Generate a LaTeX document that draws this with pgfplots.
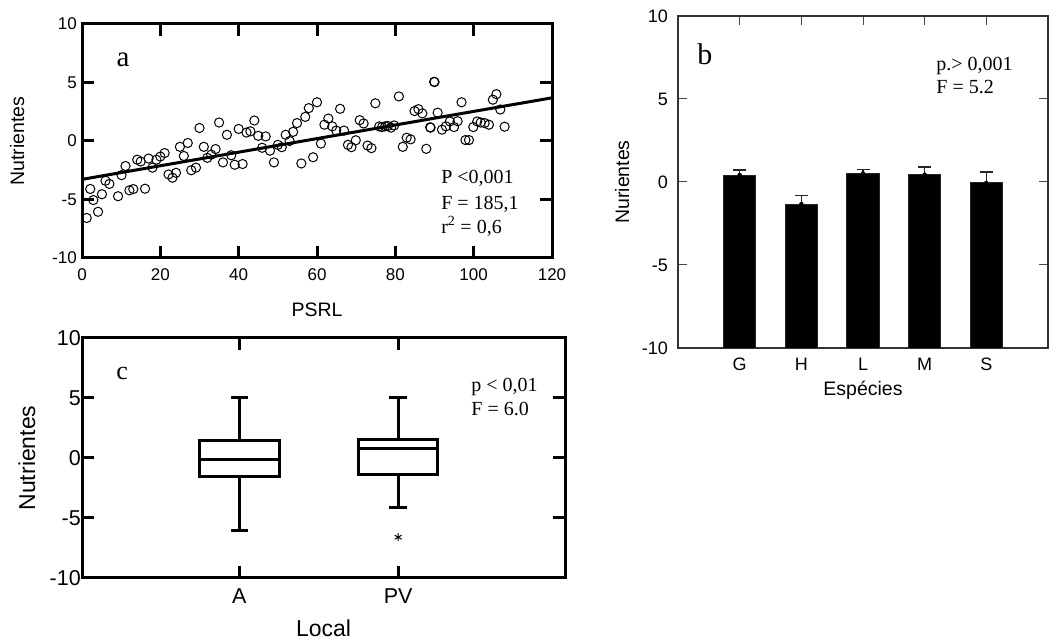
\documentclass[border=0pt]{standalone}
\usepackage{fontspec}
\setmainfont{Liberation Serif}
\setsansfont{Liberation Sans}
\usepackage{pgfplots}
\pgfplotsset{compat=1.18}
\usepgfplotslibrary{statistics}
\begin{document}
\begin{tikzpicture}
\useasboundingbox (0,0) rectangle (1049pt,639pt);

% ---------------- Panel a ----------------
\begin{axis}[
  at={(82pt,381pt)}, anchor=south west, scale only axis,
  width=470pt, height=234pt,
  xmin=0, xmax=120, ymin=-10, ymax=10,
  xtick={0,20,40,60,80,100,120}, xticklabels={0,20,40,60,80,100,120},
  ytick={-10,-5,0,5,10}, yticklabels={-10,-5,0,5,10},
  tick align=inside, major tick length=12pt,
  axis line style={line width=3pt, black},
  tick style={line width=3pt, black},
  ticklabel style={font=\sffamily\fontsize{17}{17}\selectfont},
  yticklabel style={inner sep=0pt, xshift=-5pt},
  xticklabel style={inner sep=0pt, yshift=-10pt},
  xlabel={PSRL}, ylabel={Nutrientes},
  label style={font=\sffamily\fontsize{19.5}{19.5}\selectfont},
  xlabel style={at={(axis description cs:0.5,-0.222)}, anchor=center},
  ylabel style={at={(axis description cs:-0.138,0.5)}, anchor=center},
]
\addplot[only marks, mark=o, mark size=4.6pt, mark options={line width=1pt, black}] coordinates {
(1.2,-6.58) (2.1,-4.1) (2.9,-5.05) (4.1,-6.05) (5.1,-4.55) (6.0,-3.4) (7.0,-3.67)
(9.2,-4.72) (10.1,-2.92) (11.1,-2.14) (12.1,-4.22) (13.1,-4.11) (14.1,-1.6) (15.0,-1.75)
(16.1,-4.08) (17.0,-1.5) (18.0,-2.28) (19.0,-1.6) (20.0,-1.33) (21.1,-1.03) (22.1,-2.86)
(23.1,-3.14) (24.0,-2.72) (25.0,-0.5) (26.0,-1.28) (27.0,-0.17) (27.9,-2.5) (29.1,-2.28)
(30.0,1.11) (31.1,-0.5) (32.0,-1.44) (33.0,-1.17) (34.1,-0.69) (35.0,1.58) (36.0,-1.83)
(37.0,0.53) (38.1,-1.22) (39.0,-2.03) (40.0,1.03) (41.0,-1.97) (42.0,0.72) (43.0,0.83)
(44.0,1.75) (45.0,0.44) (46.0,-0.58) (46.9,0.39) (48.0,-0.83) (49.0,-1.83) (50.0,-0.33)
(51.0,-0.53) (52.0,0.53) (53.0,0.0) (53.9,0.78) (54.9,1.53) (56.0,-1.92) (57.0,2.06)
(57.9,2.81) (59.0,-1.39) (60.0,3.31) (61.0,-0.22) (61.9,1.39) (62.9,1.92) (63.9,1.25)
(64.9,0.89) (65.9,2.75) (66.9,0.89) (67.9,-0.33) (68.8,-0.53) (69.9,0.06) (70.9,1.78)
(71.9,1.5) (72.9,-0.39) (73.9,-0.61) (74.9,3.22) (75.9,1.25) (76.6,1.19) (77.4,1.25)
(78.1,1.28) (78.9,1.14) (79.7,1.33) (80.9,3.81) (81.9,-0.5) (82.9,0.28) (83.9,0.14)
(84.9,2.56) (85.9,2.72) (86.9,2.36) (87.9,-0.67) (88.9,1.17) (89.0,1.14) (89.9,5.06)
(90.0,5.04) (90.8,2.42) (91.9,0.97) (92.9,1.25) (93.9,1.67) (95.0,1.19) (95.9,1.69)
(96.9,3.31) (97.9,0.08) (98.8,0.08) (99.9,1.19) (100.9,1.67) (101.8,1.58) (102.8,1.53)
(103.9,1.39) (104.9,3.53) (105.8,4.0) (106.8,2.69) (107.9,1.22)
};
\addplot[line width=3pt, mark=none, black] coordinates {(0,-3.28) (120,3.69)};
\node[font=\fontsize{29}{29}\selectfont, anchor=center] at (axis description cs:0.0872,0.846) {a};
\node[font=\fontsize{20}{20}\selectfont, anchor=base west] at (axis description cs:0.757,0.319) {P <0,001};
\node[font=\fontsize{20}{20}\selectfont, anchor=base west] at (axis description cs:0.757,0.209) {F = 185,1};
\node[font=\fontsize{20}{20}\selectfont, anchor=base west] at (axis description cs:0.757,0.106) {r\textsuperscript{2} = 0,6};
\end{axis}

% ---------------- Panel b ----------------
\begin{axis}[
  at={(678pt,291pt)}, anchor=south west, scale only axis,
  width=370pt, height=332pt,
  xmin=0, xmax=6, ymin=-10, ymax=10,
  xtick={1,2,3,4,5}, xticklabels={G,H,L,M,S},
  ytick={-10,-5,0,5,10}, yticklabels={-10,-5,0,5,10},
  tick align=inside, major tick length=9pt,
  axis line style={line width=1.2pt, black!80},
  tick style={line width=1pt, black!70},
  ticklabel style={font=\sffamily\fontsize{18}{18}\selectfont},
  yticklabel style={inner sep=0pt, xshift=-10pt},
  xticklabel style={inner sep=0pt, yshift=-10pt},
  xlabel={Espécies}, ylabel={Nurientes},
  label style={font=\sffamily\fontsize{19.5}{19.5}\selectfont},
  xlabel style={at={(axis description cs:0.5,-0.127)}, anchor=center},
  ylabel style={at={(axis description cs:-0.151,0.5)}, anchor=center},
]
\addplot[fill=black, draw=black!85, line width=1pt] coordinates {(0.74,-10) (0.74,0.42) (1.26,0.42) (1.26,-10)};
\addplot[fill=black, draw=black!85, line width=1pt] coordinates {(1.74,-10) (1.74,-1.33) (2.26,-1.33) (2.26,-10)};
\addplot[fill=black, draw=black!85, line width=1pt] coordinates {(2.74,-10) (2.74,0.52) (3.26,0.52) (3.26,-10)};
\addplot[fill=black, draw=black!85, line width=1pt] coordinates {(3.74,-10) (3.74,0.44) (4.26,0.44) (4.26,-10)};
\addplot[fill=black, draw=black!85, line width=1pt] coordinates {(4.74,-10) (4.74,-0.06) (5.26,-0.06) (5.26,-10)};
\addplot[only marks, mark=none,
  error bars/.cd, y dir=plus, y explicit,
  error bar style={draw=black!85, line width=1.2pt, solid},
  error mark options={rotate=90, mark size=6.5pt, line width=1.2pt, black!85}]
  coordinates {
  (1,0.42) +- (0,0.30)
  (2,-1.33) +- (0,0.51)
  (3,0.52) +- (0,0.22)
  (4,0.44) +- (0,0.46)
  (5,-0.06) +- (0,0.66)
  };
\node[font=\fontsize{30}{30}\selectfont, anchor=base west] at (axis description cs:0.043,0.855) {b};
\node[font=\fontsize{20}{20}\selectfont, anchor=base west] at (axis description cs:0.689,0.837) {p.> 0,001};
\node[font=\fontsize{20}{20}\selectfont, anchor=base west] at (axis description cs:0.689,0.768) {F = 5.2};
\end{axis}

% ---------------- Panel c ----------------
\begin{axis}[
  at={(82pt,61pt)}, anchor=south west, scale only axis,
  width=483pt, height=240pt,
  xmin=0.01, xmax=3.05, ymin=-10, ymax=10,
  xtick={1,2}, xticklabels={A,PV},
  ytick={-10,-5,0,5,10}, yticklabels={-10,-5,0,5,10},
  tick align=inside, major tick length=12pt,
  axis line style={line width=3pt, black},
  tick style={line width=3pt, black},
  ticklabel style={font=\sffamily\fontsize{21.5}{21.5}\selectfont},
  yticklabel style={inner sep=0pt, xshift=-1pt},
  xticklabel style={inner sep=0pt, yshift=-11pt},
  xlabel={Local}, ylabel={Nutrientes},
  label style={font=\sffamily\fontsize{23}{23}\selectfont},
  xlabel style={at={(axis description cs:0.5,-0.208)}, anchor=center},
  ylabel style={at={(axis description cs:-0.114,0.5)}, anchor=center},
]
\addplot[black, line width=3pt, solid, mark=none,
  boxplot prepared={draw direction=y, draw position=1, lower whisker=-6.05, lower quartile=-1.58,
    median=-0.14, upper quartile=1.47, upper whisker=5.03,
    box extend=0.5, whisker extend=0.11}]
  coordinates {};
\addplot[black, line width=3pt, solid, mark=asterisk,
  mark options={line width=1pt, mark size=4pt},
  boxplot prepared={draw direction=y, draw position=2, lower whisker=-4.14, lower quartile=-1.39,
    median=0.81, upper quartile=1.58, upper whisker=5.0,
    box extend=0.5, whisker extend=0.11}]
  table[row sep=\\, y index=0] {data\\ -6.6\\};
\node[font=\fontsize{26}{26}\selectfont, anchor=base west] at (axis description cs:0.064,0.825) {c};
\node[font=\fontsize{20}{20}\selectfont, anchor=base west] at (axis description cs:0.799,0.779) {p < 0,01};
\node[font=\fontsize{20}{20}\selectfont, anchor=base west] at (axis description cs:0.799,0.679) {F = 6.0};
\end{axis}
\end{tikzpicture}
\end{document}
